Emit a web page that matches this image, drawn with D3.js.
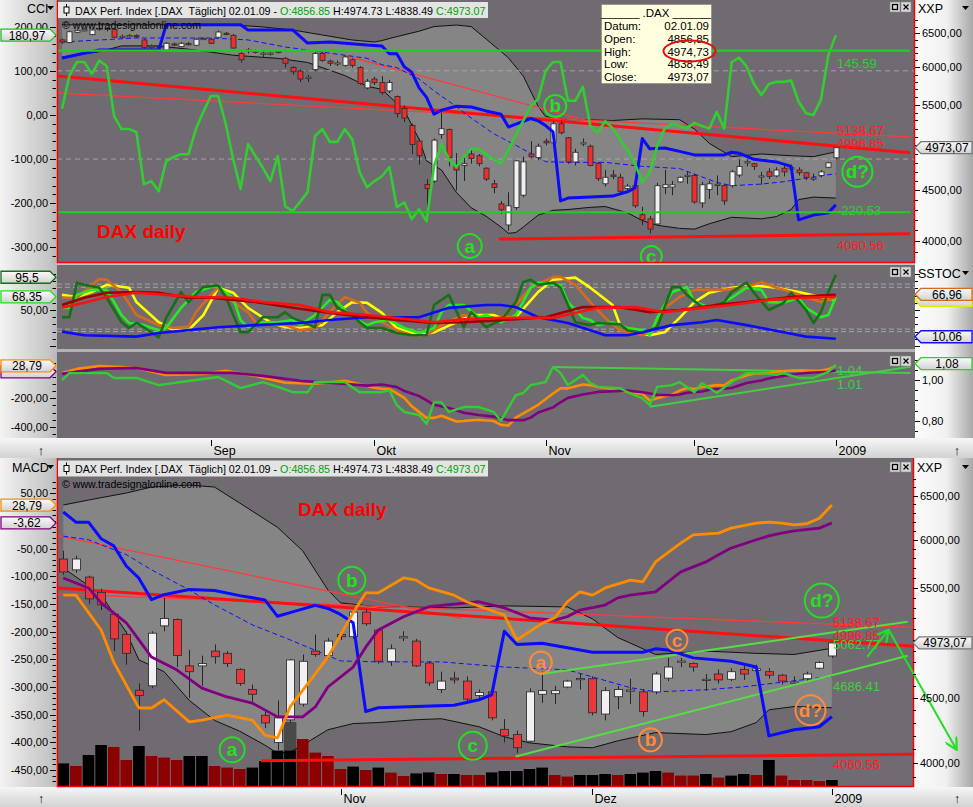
<!DOCTYPE html>
<html><head><meta charset="utf-8"><title>DAX daily</title>
<script src="https://d3js.org/d3.v7.min.js"></script>
<style>
html,body{margin:0;padding:0;background:#ffffff;}
svg{display:block;}
text{font-family:"Liberation Sans",Arial,Helvetica,sans-serif;}
</style></head><body>
<svg id="chart" width="973" height="807"></svg>
<script>
// ================= DATA =================
// daily OHLC, k = 0 (04.08.08) ... 104 (02.01.09)
const ohlc = [
[6400,6420,6340,6369],[6360,6540,6350,6524],[6515,6560,6500,6545],[6548,6575,6530,6555],[6480,6570,6470,6550],
[6560,6600,6540,6575],[6575,6590,6530,6560],[6560,6575,6430,6440],[6445,6480,6420,6455],[6455,6490,6440,6465],
[6465,6485,6430,6455],[6400,6420,6270,6290],[6290,6330,6270,6305],[6305,6330,6280,6300],[6250,6370,6240,6350],
[6340,6360,6310,6330],[6300,6370,6290,6350],[6345,6370,6320,6340],[6320,6430,6310,6410],[6415,6440,6400,6422],
[6410,6430,6340,6350],[6440,6540,6430,6520],[6500,6520,6470,6490],[6470,6490,6270,6280],[6200,6220,6070,6110],
[6240,6280,6200,6255],[6235,6260,6200,6225],[6200,6230,6150,6205],[6195,6230,6170,6205],[6230,6250,6200,6225],
[6130,6150,6000,6060],[6000,6020,5900,5940],[5950,5970,5800,5840],[5855,5900,5800,5865],[5970,6230,5950,6200],
[6200,6230,6080,6100],[6090,6110,6020,6060],[6060,6100,6020,6065],[6030,6170,6010,6150],[6110,6130,6000,6030],
[6000,6020,5760,5780],[5720,5840,5700,5810],[5840,5870,5760,5790],
[5793,5880,5630,5658],[5680,5830,5650,5793],[5606,5620,5340,5388],[5450,5490,5280,5330],[5239,5260,4900,5010],
[5051,5080,4780,4880],[4563,4620,4240,4520],[4600,5080,4580,5062],[5130,5400,5080,5199],[5190,5200,4760,4861],
[4770,4911,4500,4720],[4770,4860,4600,4790],[4900,4960,4790,4850],[4880,4900,4760,4790],[4740,4750,4600,4620],
[4570,4610,4470,4530],[4360,4390,4260,4300],[4150,4480,4095,4340],[4324,4830,4300,4822],[4450,4870,4430,4810],
[4900,5050,4850,4870],[4860,5020,4830,4990],[5050,5080,5000,5030],[5030,5290,5010,5260],[5260,5290,5130,5150],
[5090,5100,4790,4810],[4810,4960,4770,4920],[5020,5080,4990,5030],[4990,5010,4760,4770],[4795,4810,4600,4625],
[4570,4720,4540,4640],[4665,4720,4620,4650],[4640,4680,4460,4490],[4520,4570,4500,4545],[4550,4560,4320,4340],
[4250,4330,4150,4200],[4210,4240,4070,4110],[4160,4580,4150,4550],[4530,4720,4460,4560],[4535,4600,4450,4560],
[4590,4650,4580,4640],[4660,4700,4570,4662],[4660,4680,4360,4380],[4370,4590,4320,4560],[4510,4600,4410,4570],
[4555,4660,4450,4565],[4550,4570,4350,4390],[4550,4720,4530,4700],[4665,4840,4640,4760],[4805,4840,4760,4812],
[4790,4800,4720,4760],[4650,4700,4560,4655],[4700,4740,4620,4650],[4655,4750,4640,4720],[4740,4770,4650,4700],
[4730,4780,4710,4745],[4720,4750,4660,4690],[4690,4700,4610,4640],[4630,4680,4600,4632],[4660,4720,4640,4700],
[4750,4810,4740,4800],[4856.85,4974.73,4838.49,4973.07]
];
// volume (mio.) for k = 43..104 and bar colour (K = black, R = dark red)
const volume = [118,105,160,210,200,135,205,155,147,135,155,155,105,97,90,97,130,182,182,240,172,155,90,102,85,97,72,55,68,73,65,65,60,60,73,80,80,90,97,60,52,60,60,65,60,65,72,80,72,57,57,65,47,57,65,60,135,57,35,35,30,35];
const volumeColor = ("KRKKRRKRRR"+"KKRRRKKKKR"+"RRRKRKRRKK"+"RKRRKKKKKR"+"RKKKRKKKRR"+"RKRKKRKRRR"+"RK").split("");
const volumeHighlight = [[61,325]];
// Bollinger bands, moving average, stop line  [k, price]
const bbUpper = [[0,6630],[5,6630],[10,6630],[15,6630],[20,6630],[23,6630],[27,6597],[31,6551],[35,6474],[39,6399],[42,6369],[43,6391],[45,6449],[48,6532],[50,6603],[53,6627],[55,6603],[57,6414],[60,6137],[62,5880],[64,5476],[65,5349],[68,5310],[70,5310],[74,5300],[78,5320],[83,5310],[85,5195],[87,5023],[90,4870],[94,4900],[98,4880],[101,4870],[104,4925]];
const bbLower = [[0,6148],[5,6225],[8,6311],[13,6311],[18,6250],[23,6175],[29,6130],[33,6071],[38,5888],[41,5743],[43,5700],[46,5430],[48,5070],[49,4822],[51,4720],[53,4480],[55,4320],[57,4236],[59,4130],[60,4070],[61,4077],[62,4130],[64,4247],[66,4295],[68,4303],[71,4325],[73,4333],[76,4270],[78,4193],[80,4147],[83,4117],[85,4110],[87,4162],[90,4225],[94,4210],[96,4232],[98,4303],[99,4404],[101,4430],[104,4420]];
const maLine = [[0,6369],[10,6429],[20,6429],[25,6400],[30,6295],[36,6205],[41,6130],[43,6039],[45,6000],[48,5840],[50,5680],[53,5476],[55,5330],[58,5140],[61,5001],[64,4860],[65,4813],[68,4805],[73,4805],[78,4760],[83,4736],[88,4585],[90,4550],[94,4567],[97,4592],[100,4630],[104,4680]];
const stopLine = [[0,6135],[5,6250],[13,6250],[14,6630],[24,6630],[25,6551],[31,6551],[33,6354],[36,6369],[41,6323],[43,6310],[44,6195],[45,6195],[46,6011],[47,5935],[48,5720],[49,5595],[50,5380],[51,5430],[53,5480],[55,5470],[57,5420],[59,5378],[60,5220],[61,5255],[63,5325],[64,5295],[65,5238],[66,5160],[67,4390],[68,4420],[71,4430],[74,4440],[76,4485],[77,4525],[78,5080],[79,4960],[81,4970],[83,4930],[85,4890],[89,4890],[90,4920],[91,4910],[93,4840],[96,4810],[98,4760],[99,4200],[101,4247],[103,4270],[104,4350]];
// trend lines [k, price]
const trendThick = [[-0.7,5882],[114,4915]];
const trendThinA = [[37.8,6178],[74.6,5200]];
const trendThinB = [[-0.5,5652],[114,5100]];
const supportLine = [[58.7,4015],[114,4065]];
const channelLower = [[78.9,4046],[110,4858]];
const channelUpper = [[80.8,4697],[110,5169]];
const arrowUp = [[106.8,4849],[108.5,5093]];
const arrowDown = [[108.5,5093],[113.9,4095]];
// CCI
const cci = [[0,14],[1,89],[2,120],[3,120],[4,93],[5,123],[6,111],[7,-2],[8,-32],[9,-32],[10,-39],[11,-157],[12,-150],[13,-173],[14,-105],[15,-95],[16,-89],[17,-89],[18,-32],[19,7],[20,43],[21,43],[22,-20],[23,-100],[24,-168],[25,-66],[26,-93],[27,-120],[28,-150],[29,-93],[30,-207],[31,-218],[32,-197],[33,-175],[34,-48],[35,-32],[36,-61],[37,-61],[38,-32],[39,-55],[40,-130],[41,-164],[42,-150],[43,-139],[44,-118],[45,-209],[46,-198],[47,-236],[48,-214],[49,-241],[50,-116],[51,-66],[52,-100],[53,-118],[54,-95],[55,-77],[56,-77],[57,-90],[58,-100],[59,-111],[60,-80],[61,-45],[62,-13],[63,20],[64,36],[65,100],[66,120],[67,120],[68,32],[69,32],[70,64],[71,-25],[72,-40],[73,-14],[74,-30],[75,-55],[76,-80],[77,-110],[78,-152],[79,-130],[80,-70],[81,-31],[82,-20],[83,-25],[84,-30],[85,-18],[86,-25],[87,-31],[88,7],[89,-31],[90,120],[91,130],[92,110],[93,70],[94,45],[95,70],[96,75],[97,75],[98,78],[99,30],[100,4],[101,0],[102,34],[103,135],[104,180.97]];
const cciLevels = [145.59,-220.53];
const cciRef = [100,-100];
// SSTOC lines
const stocDarkGreen = [[0,40],[1,40],[2,88],[3,85],[5,81],[6,67],[8,33],[9,25],[10,32],[11,26],[13,12],[14,39],[16,75],[17,61],[19,82],[21,84],[22,68],[24,19],[25,19],[27,40],[29,40],[30,47],[31,39],[34,26],[35,71],[36,71],[37,53],[39,43],[40,33],[41,25],[43,25],[45,18],[47,15],[49,15],[50,57],[52,71],[54,26],[55,47],[57,26],[59,36],[61,61],[62,89],[63,92],[64,85],[66,88],[67,81],[69,33],[71,29],[72,32],[75,30],[76,22],[78,18],[80,26],[82,82],[83,82],[84,71],[86,54],[87,54],[89,61],[90,75],[92,88],[93,74],[95,50],[97,60],[98,74],[100,50],[101,32],[102,47],[103,75],[104,99]];
const stocLime = [[0,53],[1,53],[2,71],[4,78],[6,78],[7,61],[8,43],[9,32],[11,29],[13,22],[14,25],[16,53],[18,75],[20,82],[21,82],[23,67],[24,36],[25,26],[27,33],[29,33],[31,36],[32,29],[34,43],[36,64],[37,61],[39,40],[41,29],[42,33],[44,36],[46,25],[48,18],[50,25],[51,47],[52,57],[54,57],[56,40],[57,43],[59,33],[61,43],[63,81],[64,88],[66,85],[67,85],[68,61],[70,39],[71,36],[72,29],[74,33],[76,25],[78,22],[79,15],[80,39],[82,75],[84,82],[85,61],[87,54],[88,57],[90,67],[92,81],[94,78],[95,61],[97,60],[99,67],[100,53],[102,40],[103,43],[104,68]];
const stocOrange = [[0,67],[2,67],[5,93],[6,92],[8,75],[10,43],[13,29],[15,25],[17,27],[18,47],[20,71],[21,81],[23,61],[25,47],[26,33],[30,29],[32,22],[34,25],[36,47],[38,68],[40,60],[41,46],[43,33],[45,22],[47,15],[49,15],[51,29],[53,39],[54,43],[57,36],[59,39],[61,57],[63,81],[66,96],[67,96],[69,85],[71,61],[73,39],[75,22],[78,15],[79,19],[81,53],[83,68],[85,78],[87,78],[89,78],[92,82],[94,89],[96,81],[98,75],[100,68],[102,61],[104,66.96]];
const stocYellow = [[0,71],[2,68],[4,75],[6,85],[9,81],[10,61],[13,33],[15,22],[17,22],[19,43],[21,81],[23,74],[25,53],[28,33],[30,26],[32,25],[35,29],[37,47],[39,61],[41,60],[43,46],[45,25],[48,15],[50,19],[53,33],[55,43],[58,43],[59,39],[61,40],[64,75],[66,92],[69,95],[71,81],[74,57],[75,29],[77,19],[79,15],[81,19],[83,39],[85,61],[87,74],[90,81],[93,84],[96,81],[99,75],[102,68],[104,64]];
const stocBlue = [[0,20],[3,15],[10,13],[13,18],[17,22],[21,26],[26,29],[32,32],[36,36],[41,40],[48,40],[52,53],[57,57],[59,57],[61,54],[64,40],[68,32],[71,22],[73,15],[76,15],[78,19],[82,29],[86,33],[88,36],[92,29],[97,19],[100,13],[104,10.06]];
const stocDarkRed = [[0,57],[3,67],[6,74],[10,75],[13,74],[17,67],[20,67],[26,61],[31,53],[36,46],[41,40],[45,36],[50,32],[54,33],[59,36],[65,40],[70,54],[75,54],[79,47],[83,50],[88,57],[92,61],[98,68],[104,71]];
const stocRed = [[0,53],[3,60],[6,68],[10,74],[14,71],[18,68],[23,67],[27,61],[32,57],[36,47],[41,43],[45,39],[50,33],[54,37],[59,39],[66,39],[72,53],[77,54],[81,47],[86,53],[90,57],[95,64],[99,67],[104,68]];
const stocBands = [86,81.5,23.5,20];
// MACD / signal / relative strength
const macdLine = [[0,-21],[2,7],[5,28],[10,14],[14,-35],[19,-28],[22,-7],[26,-42],[30,-91],[34,-98],[38,-77],[42,-125],[43,-134],[44,-134],[46,-197],[47,-255],[49,-338],[50,-338],[51,-323],[53,-363],[54,-360],[56,-351],[58,-360],[59,-387],[60,-392],[61,-336],[64,-246],[66,-166],[67,-130],[68,-130],[70,-103],[71,-107],[72,-121],[74,-134],[75,-146],[78,-170],[79,-215],[80,-200],[81,-185],[82,-175],[83,-146],[84,-128],[85,-134],[86,-121],[88,-107],[89,-110],[90,-74],[92,-40],[93,-25],[95,-22],[96,-13],[98,-4],[99,-2],[100,-4],[101,-7],[102,-5],[103,5],[104,28.79]];
const macdSignal = [[0,-28],[5,7],[10,14],[14,-21],[19,-21],[23,-21],[27,-42],[32,-77],[36,-91],[41,-111],[43,-103],[45,-121],[46,-148],[48,-184],[49,-215],[50,-246],[52,-269],[54,-302],[56,-318],[58,-329],[60,-354],[62,-354],[63,-336],[64,-300],[66,-264],[67,-228],[68,-197],[70,-173],[72,-155],[75,-148],[76,-146],[78,-157],[80,-175],[82,-179],[83,-173],[84,-161],[86,-152],[87,-139],[88,-134],[90,-128],[91,-110],[92,-92],[94,-74],[95,-61],[96,-49],[98,-34],[99,-27],[100,-22],[101,-18],[103,-13],[104,-3.62]];
const relStrength = [[0,1.0],[1,1.034],[6,1.034],[7,1.01],[10,1.01],[13,0.975],[16,0.99],[21,1.015],[24,0.96],[27,0.99],[29,0.966],[31,0.94],[33,0.94],[34,0.99],[38,0.99],[40,0.94],[43,0.94],[44,0.95],[45,0.877],[46,0.843],[48,0.828],[49,0.784],[50,0.89],[51,0.89],[52,0.843],[54,0.867],[56,0.867],[58,0.843],[59,0.80],[61,0.926],[62,0.936],[63,0.975],[65,0.99],[66,1.064],[67,1.034],[68,0.975],[70,1.025],[71,0.985],[72,0.966],[75,0.96],[76,0.94],[78,0.91],[79,0.877],[80,0.966],[82,0.975],[83,0.99],[85,0.94],[86,0.985],[88,0.936],[90,0.99],[92,1.034],[94,1.034],[96,1.025],[97,1.034],[99,1.01],[101,1.01],[103,1.04],[104,1.074]];
const rsTrendUpper = [[65.9,1.064],[114,1.035]];
const rsTrendLower = [[79,0.869],[114,1.065]];
// axes
const tickLabelsTop = ["Sep","Okt","Nov","Dez","2009"];
const tickIdxTop = [20,42,65,85,104];
const tickLabelsBottom = ["Nov","Dez","2009"];
const tickIdxBottom = [65,85,104];
const priceTickLabels = [4000,4500,5500,6000,6500];      // 5000 sits under the last-price box
const cciTicks = [200,100,0,-100,-200,-300];
const macdTicksTop = [-200,-400];
const rsTicks = [1.0,0.8];
const macdTicksBottom = [50,-50,-100,-150,-200,-250,-300,-350,-400,-450];
// annotations
const topValueLabels = [["145.59","cci",145.59,12.6,"#33cc33"],["5138.67","p",5138.67,-3.2,"#ff2020"],["4996.85","p",4996.85,-2.2,"#ff2020"],["-220.53","cci",-220.53,-1.5,"#33cc33"],["4060.56","p",4060.56,11,"#ff2020"]];
const bottomValueLabels = [["5138.67",5138.67,-2.5,"#ff2020"],["4996.85",4996.85,-4.8,"#ff2020"],["5062.77",5062.77,11.5,"#44cc44"],["4686.41",4686.41,10.8,"#44cc44"],["4060.56",4060.56,10.1,"#ff2020"]];
const topCircles = [["a",54.8,3950,12,"#22e022"],["b",66.3,5483,11,"#22e022"],["c",79.2,3855,10.5,"#22e022"],["d?",106.9,4700,15,"#22e022"]];
const bottomCircles = [["a",56.4,4095,12.5,"#22e022"],["b",65.9,5574,13.5,"#22e022"],["c",75.5,4125,14,"#22e022"],["d?",103.2,5371,17,"#22e022"],
                       ["a",80.9,4800,11,"#ff8a3c"],["b",89.6,4170,11.5,"#ff8a3c"],["c",91.7,4997,10.5,"#ff8a3c"],["d?",102.3,4400,15,"#ff8a3c"]];
const tooltipRows = [["Datum:","02.01.09"],["Open:","4856,85"],["High:","4974,73"],["Low:","4838,49"],["Close:","4973,07"]];
const titleParts = [["DAX Perf. Index [.DAX\u00a0 T\u00e4glich] 02.01.09 -","#000"],["O:4856.85","#00a000"],["H:4974.73 L:4838.49","#000"],["C:4973.07","#00a000"]];

// ================= DRAWING =================
const svg = d3.select("#chart");
const BG = "#6f6b71", BAND = "#858585";
const fmtDE = v => d3.format(".2f")(v).replace("\u2212","-").replace(".",",");
const defs = svg.append("defs");
function grad(id, vertical, stops){
  const g = defs.append("linearGradient").attr("id",id).attr("x1",0).attr("y1",0).attr("x2",vertical?0:1).attr("y2",vertical?1:0);
  stops.forEach(([o,c])=>g.append("stop").attr("offset",o).attr("stop-color",c));
}
grad("gLeft",false,[[0,"#f4f4f4"],[0.3,"#e2e2e2"],[0.85,"#c6c6c6"],[1,"#b8b8b8"]]);
grad("gRight",false,[[0,"#fcfcfc"],[0.55,"#f0f0f0"],[1,"#a8a8a8"]]);
grad("gTime",true,[[0,"#f6f6f6"],[1,"#d2d2d2"]]);
grad("gBox",true,[[0,"#fafafa"],[1,"#d2d2d2"]]);
function clip(id,x,y,w,h){ defs.append("clipPath").attr("id",id).append("rect").attr("x",x).attr("y",y).attr("width",w).attr("height",h); }
clip("c1",58,0,856,262); clip("c2",57,265,858,84); clip("c3",57,352,858,86); clip("cB",58,458,855,329);
const mk = defs.append("marker").attr("id","arrowHead").attr("viewBox","0 0 12 12").attr("refX",11).attr("refY",6)
  .attr("markerWidth",13).attr("markerHeight",13).attr("markerUnits","userSpaceOnUse").attr("orient","auto");
mk.append("path").attr("d","M0,0 L11,6 L0,12").attr("fill","none").attr("stroke","#22e022").attr("stroke-width",2);

const rect = (p,x,y,w,h,fill)=>p.append("rect").attr("x",x).attr("y",y).attr("width",w).attr("height",h).attr("fill",fill);
rect(svg,0,0,973,807,"#cfcfcf");
rect(svg,0,0,57,438,"url(#gLeft)"); rect(svg,915,0,58,438,"url(#gRight)");
rect(svg,57,0,858,262,BG); rect(svg,57,262,858,3,"#c4c4c4"); rect(svg,57,265,858,84,BG);
rect(svg,57,349,858,3,"#b2b2b2"); rect(svg,57,352,858,86,BG);
rect(svg,0,438,973,20,"url(#gTime)");
rect(svg,0,458,57,329,"url(#gLeft)"); rect(svg,913,458,60,329,"url(#gRight)"); rect(svg,57,458,856,329,BG);
rect(svg,0,787,973,20,"url(#gTime)");

// scales
const xT = d3.scaleLinear().domain([0,104]).range([62,835.8]);
const xB = d3.scaleLinear().domain([43,104]).range([63.3,831.9]);
const yPT = d3.scaleLog().domain([4000,6500]).range([240.7,33.3]);
const yPB = d3.scaleLog().domain([4000,6500]).range([762.7,495.7]);
const yCCI = d3.scaleLinear().domain([-300,200]).range([247.3,26.7]);
const yST = d3.scaleLinear().domain([0,100]).range([346,274]);
const yMT = d3.scaleLinear().domain([-400,0]).range([426.7,369.9]);
const yRS = d3.scaleLinear().domain([0.8,1.0]).range([420.7,380]);
const yMB = d3.scaleLinear().domain([-450,50]).range([770,493.3]);
const yVol = d3.scaleLinear().domain([0,300]).range([787,727]);

function drawLine(g,data,xs,ys,color,w,dash){
  return g.append("path").attr("d",d3.line().x(d=>xs(d[0])).y(d=>ys(d[1]))(data))
    .attr("fill","none").attr("stroke",color).attr("stroke-width",w).attr("stroke-linejoin","round")
    .attr("stroke-dasharray",dash||null);
}
function bandArea(g,xs,ys,kMin){
  const up = bbUpper.filter(d=>d[0]>=kMin), lo = bbLower.filter(d=>d[0]>=kMin).slice().reverse();
  g.append("path").attr("d",d3.line().x(d=>xs(d[0])).y(d=>ys(d[1]))(up.concat(lo))+"Z").attr("fill",BAND);
  drawLine(g,up,xs,ys,"#111",1);
  drawLine(g,bbLower.filter(d=>d[0]>=kMin),xs,ys,"#111",1);
}
function candles(g,xs,ys,kMin,w,red){
  const data = ohlc.map((d,k)=>({k,o:d[0],h:d[1],l:d[2],c:d[3]})).filter(d=>d.k>=kMin);
  g.append("g").selectAll("line").data(data).join("line")
    .attr("x1",d=>Math.round(xs(d.k))+0.5).attr("x2",d=>Math.round(xs(d.k))+0.5)
    .attr("y1",d=>ys(d.h)).attr("y2",d=>ys(d.l)).attr("stroke","#262626").attr("stroke-width",1);
  g.append("g").selectAll("rect").data(data).join("rect")
    .attr("x",d=>Math.round(xs(d.k))+0.5-w/2).attr("width",w)
    .attr("y",d=>ys(Math.max(d.o,d.c))).attr("height",d=>Math.max(1.2,Math.abs(ys(d.o)-ys(d.c))))
    .attr("fill",d=>d.c>=d.o?"#f3f0f4":red).attr("stroke","#303030").attr("stroke-width",0.9);
}
function circleLabel(g,x,y,r,txt,col){
  g.append("circle").attr("cx",x).attr("cy",y).attr("r",r).attr("fill","none").attr("stroke",col).attr("stroke-width",2);
  g.append("text").attr("x",x).attr("y",y+6.5).attr("text-anchor","middle").attr("font-size",19)
    .attr("font-weight","bold").attr("fill",col).text(txt);
}
function hline(g,x1,x2,y,color,w,dash){
  g.append("line").attr("x1",x1).attr("x2",x2).attr("y1",y).attr("y2",y).attr("stroke",color).attr("stroke-width",w).attr("stroke-dasharray",dash||null);
}
function titleBar(y){
  const g = svg.append("g");
  rect(g,58,y,430,16,"#e4e4e4");
  g.append("line").attr("x1",66.5).attr("x2",66.5).attr("y1",y+2).attr("y2",y+14).attr("stroke","#000");
  g.append("rect").attr("x",64).attr("y",y+5).attr("width",5).attr("height",6).attr("fill","#fff").attr("stroke","#000");
  // measure the parts at a trial size, then pick the font size that fills the bar naturally
  const fs0 = 12.5, gap0 = 3.5;
  const nodes = titleParts.map(([t,c])=>g.append("text").attr("y",y+12.5).attr("font-size",fs0).attr("fill",c).text(t));
  const widths = nodes.map(n=>n.node().getComputedTextLength());
  const s = 411/(d3.sum(widths)+gap0*(nodes.length-1));
  nodes.forEach(n=>n.attr("font-size",fs0*s));
  let x = 75;
  nodes.forEach(n=>{ n.attr("x",x); x += n.node().getComputedTextLength() + gap0*s; });
}
function watermark(y){
  svg.append("text").attr("x",62).attr("y",y).attr("font-size",11.5).attr("fill","#000")
    .attr("textLength",139).attr("lengthAdjust","spacingAndGlyphs").text("\u00a9 www.tradesignalonline.com");
}
function winButtons(y){
  const g = svg.append("g");
  [890,901].forEach((x,i)=>{
    rect(g,x,y,10,10,"#d8d8d8").attr("stroke","#888").attr("stroke-width",0.6);
    if(i===0) g.append("rect").attr("x",x+2.5).attr("y",y+2.5).attr("width",5).attr("height",5).attr("fill","none").attr("stroke","#000").attr("stroke-width",1.3);
    else g.append("path").attr("d",`M${x+2.5},${y+2.5}L${x+7.5},${y+7.5}M${x+7.5},${y+2.5}L${x+2.5},${y+7.5}`).attr("stroke","#000").attr("stroke-width",1.2);
  });
}
function dropArrow(x,y){ svg.append("path").attr("d",`M${x},${y}h7l-3.5,4z`).attr("fill","#000"); }
function leftBox(y,txt,col){
  const g = svg.append("g");
  g.append("path").attr("d",`M1,${y-6}H50L56,${y}L50,${y+6}H1Z`).attr("fill","url(#gBox)").attr("stroke",col).attr("stroke-width",1.3);
  if(txt) g.append("text").attr("x",27).attr("y",y+4.5).attr("text-anchor","middle").attr("font-size",12).text(txt);
}
function rightBox(xa,y,txt,col){
  const g = svg.append("g");
  g.append("path").attr("d",`M${xa},${y}L${xa+6},${y-6}H972V${y+6}H${xa+6}Z`).attr("fill","url(#gBox)").attr("stroke",col).attr("stroke-width",1.3);
  if(txt) g.append("text").attr("x",xa+32).attr("y",y+4.5).attr("text-anchor","middle").attr("font-size",12).text(txt);
}
function leftTicks(ys,yMin,yMax,step,majors,labels,format){
  const g = svg.append("g");
  const [a,b] = d3.extent([ys.invert(yMin),ys.invert(yMax)]);
  for(let v=Math.ceil(a/step)*step; v<=b+1e-9; v+=step){
    const y = ys(v); if(y<yMin||y>yMax) continue;
    const major = Math.abs(v/majors-Math.round(v/majors))<1e-6;
    hline(g,major?50:52.5,56,Math.round(y)+0.5,"#000",1);
  }
  labels.forEach(v=>{ const y=ys(v); if(y<yMin||y>yMax) return;
    g.append("text").attr("x",48).attr("y",y+4).attr("text-anchor","end").attr("font-size",11).text(format(v)); });
}
function rightTicks(ys,xa,yMin,yMax,vals,majors,labels,format){
  const g = svg.append("g");
  vals.forEach(v=>{ const y=ys(v); if(y<yMin||y>yMax) return;
    const major = Math.abs(v/majors-Math.round(v/majors))<1e-6;
    hline(g,xa,xa+(major?5:3),Math.round(y)+0.5,"#000",1); });
  labels.forEach(v=>{ const y=ys(v); if(y<yMin||y>yMax) return;
    g.append("text").attr("x",xa+7).attr("y",y+4).attr("font-size",11).text(format(v)); });
}
const priceMinor = d3.range(3800,7100,100);
const narrow = "'Liberation Sans Narrow','Liberation Sans',Arial,sans-serif";

// ---------- TOP PANEL 1 : price + CCI ----------
const g1 = svg.append("g").attr("clip-path","url(#c1)");
bandArea(g1,xT,yPT,0);
cciRef.forEach(v=>hline(g1,57,915,yCCI(v),"#a8a4aa",1,"5,4"));
drawLine(g1,trendThinB,xT,yPT,"#ff3a3a",1.3);
drawLine(g1,trendThinA,xT,yPT,"#ff3a3a",1.3);
drawLine(g1,trendThick,xT,yPT,"#ff1010",3);
drawLine(g1,supportLine,xT,yPT,"#ff1010",3);
drawLine(g1,maLine,xT,yPT,"#1010ff",1,"5,3");
candles(g1,xT,yPT,0,5,"#f02c2c");
drawLine(g1,stopLine,xT,yPT,"#0a0aff",3);
drawLine(g1,cci,xT,yCCI,"#33cc33",2.6);
cciLevels.forEach(v=>hline(g1,57,xT(114),yCCI(v),"#22cc22",2.2));
topValueLabels.forEach(([t,s,v,dy,c])=>{
  const y = (s==="cci"?yCCI(v):yPT(v))+dy;
  g1.append("text").attr("x",837).attr("y",y+4.5).attr("font-size",13).attr("fill",c).style("font-family",narrow).text(t);
});
g1.append("text").attr("x",97).attr("y",238).attr("font-size",19).attr("font-weight","bold").attr("fill","#ff0000").text("DAX daily");
topCircles.forEach(([t,k,p,r,c])=>circleLabel(g1,xT(k),yPT(p),r,t,c));
svg.append("path").attr("d","M57.5,0V262.5H914.5V0").attr("fill","none").attr("stroke","#ff0000").attr("stroke-width",1.5);

// ---------- TOP PANEL 2 : SSTOC ----------
const g2 = svg.append("g").attr("clip-path","url(#c2)");
stocBands.forEach(v=>hline(g2,57,915,yST(v),"#a8a4aa",1,"5,3"));
drawLine(g2,stocYellow,xT,yST,"#ffff00",2.6);
drawLine(g2,stocOrange,xT,yST,"#d86a20",2.6);
drawLine(g2,stocLime,xT,yST,"#22ee22",2.6);
drawLine(g2,stocDarkGreen,xT,yST,"#167016",2.6);
drawLine(g2,stocBlue,xT,yST,"#0a0aff",2.6);
drawLine(g2,stocDarkRed,xT,yST,"#a00000",2.6);
drawLine(g2,stocRed,xT,yST,"#ff1010",2.6);

// ---------- TOP PANEL 3 : MACD + relative strength ----------
const g3 = svg.append("g").attr("clip-path","url(#c3)");
drawLine(g3,rsTrendUpper,xT,yRS,"#44cc44",2);
drawLine(g3,rsTrendLower,xT,yRS,"#44cc44",2);
drawLine(g3,macdLine,xT,yMT,"#ff8c00",2.6);
drawLine(g3,macdSignal,xT,yMT,"#800080",2.6);
drawLine(g3,relStrength,xT,yRS,"#33cc33",2.4);
g3.append("text").attr("x",837).attr("y",yRS(1.04)+3).attr("font-size",13).attr("fill","#44cc44").style("font-family",narrow).text("1.04");
g3.append("text").attr("x",837).attr("y",yRS(1.01)+11).attr("font-size",13).attr("fill","#44cc44").style("font-family",narrow).text("1.01");

// ---------- top axes ----------
svg.append("text").attr("x",27).attr("y",13).attr("font-size",12.5).text("CCI"); dropArrow(47,6);
leftTicks(yCCI,18,258,20,100,cciTicks,fmtDE);
leftBox(yCCI(180.97),"180,97","#22bb22");
svg.append("text").attr("x",918).attr("y",13).attr("font-size",12.5).text("XXP"); dropArrow(962,6);
rightTicks(yPT,915,18,258,priceMinor,500,priceTickLabels,fmtDE);
rightBox(915,yPT(4973.07),"4973,07","#777");
// panel 2 axes
leftTicks(yST,269,347,10,50,[50],fmtDE);
leftBox(yST(95.5),"95,5","#1a6b1a");
leftBox(yST(68.35),"68,35","#22dd22");
svg.append("text").attr("x",918).attr("y",278).attr("font-size",12.5).text("SSTOC"); dropArrow(962,271);
rightTicks(yST,915,269,347,d3.range(0,101,10),50,[],fmtDE);
rightBox(915,yST(66.96)+2.5,"","#e8e800");
rightBox(915,yST(66.96)-3.5,"66,96","#d86a20");
rightBox(915,yST(10.06)-2,"10,06","#1010ff");
// panel 3 axes
leftTicks(yMT,356,436,50,200,macdTicksTop,fmtDE);
leftBox(yMT(28.79)+6,"","#800080");
leftBox(yMT(28.79),"28,79","#ff8c00");
rightTicks(yRS,915,356,436,d3.range(0.7,1.21,0.05),0.2,rsTicks,fmtDE);
rightBox(915,yRS(1.08),"1,08","#33cc33");
// time axis
tickIdxTop.forEach((k,i)=>{
  const x = Math.round(xT(k))+0.5;
  svg.append("line").attr("x1",x).attr("x2",x).attr("y1",440).attr("y2",446).attr("stroke","#000");
  svg.append("text").attr("x",x+2).attr("y",455).attr("font-size",12.5).text(tickLabelsTop[i]);
});
[41,957].forEach(x=>svg.append("text").attr("x",x).attr("y",455).attr("text-anchor","middle").attr("font-size",13).text("\u2191"));

titleBar(2); watermark(28.5); winButtons(2); winButtons(267); winButtons(356);

// tooltip
const tt = svg.append("g");
rect(tt,601.5,4.5,110,79,"#ffffe0").attr("stroke","#888").attr("stroke-width",0.6);
tt.append("text").attr("x",656).attr("y",17).attr("text-anchor","middle").attr("font-size",11.5).text("______ .DAX ______");
tooltipRows.forEach(([a,b],i)=>{
  const y = 30 + i*12.8;
  tt.append("text").attr("x",604).attr("y",y).attr("font-size",11.5).text(a);
  tt.append("text").attr("x",709).attr("y",y).attr("text-anchor","end").attr("font-size",11.5).text(b);
});
tt.append("ellipse").attr("cx",689.5).attr("cy",51).attr("rx",26).attr("ry",10.5).attr("fill","none").attr("stroke","#e01010").attr("stroke-width",2);

// ---------- BOTTOM CHART ----------
const gB = svg.append("g").attr("clip-path","url(#cB)");
bandArea(gB,xB,yPB,43);
const vdata = volume.map((v,i)=>({k:i+43,v,c:volumeColor[i]}));
gB.append("g").selectAll("rect").data(vdata).join("rect")
  .attr("x",d=>xB(d.k)-5.8).attr("width",11.6).attr("y",d=>yVol(d.v)).attr("height",d=>787-yVol(d.v))
  .attr("fill",d=>d.c==="K"?"#000000":"#8b0000");
volumeHighlight.forEach(([k,v])=>gB.append("rect").attr("x",xB(k)-6.3).attr("width",12.6).attr("y",yVol(v)).attr("height",787-yVol(v)).attr("fill","#000").attr("opacity",0.45));
drawLine(gB,trendThinB,xB,yPB,"#ff3a3a",1.3);
drawLine(gB,trendThinA,xB,yPB,"#ff3a3a",1.3);
drawLine(gB,trendThick,xB,yPB,"#ff1010",3);
drawLine(gB,supportLine,xB,yPB,"#ff1010",3);
drawLine(gB,maLine.filter(d=>d[0]>=43),xB,yPB,"#1010ff",1,"5,3");
candles(gB,xB,yPB,43,8,"#e8383c");
drawLine(gB,channelLower,xB,yPB,"#55dd44",2);
drawLine(gB,channelUpper,xB,yPB,"#55dd44",2);
drawLine(gB,stopLine.filter(d=>d[0]>=43),xB,yPB,"#0a0aff",3);
drawLine(gB,macdSignal.filter(d=>d[0]>=43),xB,yMB,"#800080",2.8);
drawLine(gB,macdLine.filter(d=>d[0]>=43),xB,yMB,"#ff8c00",2.8);
bottomValueLabels.forEach(([t,v,dy,c])=>gB.append("text").attr("x",833).attr("y",yPB(v)+dy+4.5).attr("font-size",13).attr("fill",c).style("font-family",narrow).text(t));
gB.append("text").attr("x",298).attr("y",516).attr("font-size",19).attr("font-weight","bold").attr("fill","#ff0000").text("DAX daily");
bottomCircles.forEach(([t,k,p,r,c])=>circleLabel(gB,xB(k),yPB(p),r,t,c));
svg.append("path").attr("d","M57.5,458V786.5H913.5V458").attr("fill","none").attr("stroke","#ff0000").attr("stroke-width",1.5);
drawLine(svg,arrowUp,xB,yPB,"#22e022",2).attr("marker-end","url(#arrowHead)");
drawLine(svg,arrowDown,xB,yPB,"#22e022",2).attr("marker-end","url(#arrowHead)");

// bottom axes
svg.append("text").attr("x",12).attr("y",472).attr("font-size",12.5).text("MACD"); dropArrow(47,465);
leftTicks(yMB,478,786,10,50,macdTicksBottom,fmtDE);
leftBox(yMB(28.79),"28,79","#ff8c00");
leftBox(yMB(-3.62),"-3,62","#800080");
svg.append("text").attr("x",917).attr("y",472).attr("font-size",12.5).text("XXP"); dropArrow(962,465);
rightTicks(yPB,913,478,786,priceMinor,500,priceTickLabels,fmtDE);
rightBox(913,yPB(4973.07),"4973,07","#777");
tickIdxBottom.forEach((k,i)=>{
  const x = Math.round(xB(k))+0.5;
  svg.append("line").attr("x1",x).attr("x2",x).attr("y1",789).attr("y2",795).attr("stroke","#000");
  svg.append("text").attr("x",x+2).attr("y",803).attr("font-size",12.5).text(tickLabelsBottom[i]);
});
[41,957].forEach(x=>svg.append("text").attr("x",x).attr("y",803).attr("text-anchor","middle").attr("font-size",12).text("\u2191"));
titleBar(460.5); watermark(488); winButtons(462);
</script></body></html>
